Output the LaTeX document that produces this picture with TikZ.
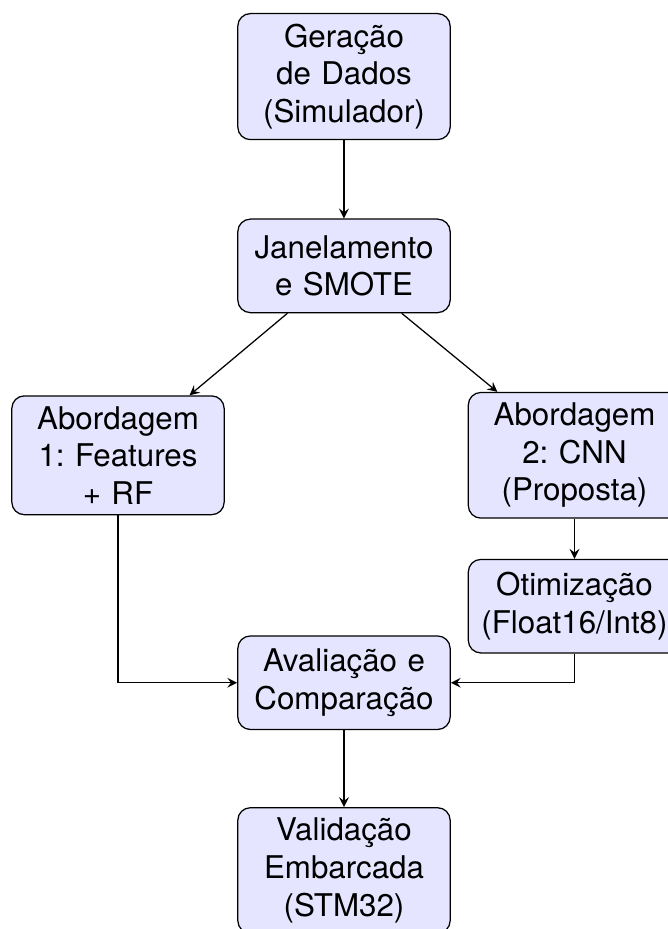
\documentclass[tikz,border=0pt]{standalone}
\usepackage{fontspec}
\setmainfont{TeX Gyre Heros}
\frenchspacing
\usetikzlibrary{positioning}

\begin{document}
\begin{tikzpicture}[node distance=25pt,
  every node/.style = {shape=rectangle, rounded corners,
    draw, align=center, text width=2.15cm, minimum height=1.05cm,
    fill=blue!10, font=\fontsize{10}{12}\selectfont},
  link/.style = {-stealth}]
  \node (gen) {Geração\\de Dados\\(Simulador)};
  \node[below=of gen] (jan) {Janelamento\\e SMOTE};
  \node[below=26.2pt of jan, xshift=-72.2pt] (ab1) {Abordagem\\1: Features\\+ RF};
  \node[right=77.6pt of ab1] (ab2) {Abordagem\\2: CNN\\(Proposta)};
  \node[below=12.8pt of ab2] (otim) {Otimização\\(Float16/Int8)};
  \node[below=102.9pt of jan] (aval) {Avaliação e\\Comparação};
  \node[below=24.6pt of aval] (valid) {Validação\\Embarcada\\(STM32)};
  % connectors
  \draw[link] (gen) -- (jan);
  \draw[link] (jan) -- (ab1);
  \draw[link] (jan) -- (ab2);
  \draw[link] (ab2) -- (otim);
  \draw[link] (ab1.south) |- (aval.west);
  \draw[link] (otim.south) |- (aval.east);
  \draw[link] (aval) -- (valid);
  \pgfresetboundingbox
  \useasboundingbox ([xshift=-109.9pt,yshift=4.15pt]gen.north)
    rectangle ++(213.4pt,-296.8pt);
\end{tikzpicture}
\end{document}
